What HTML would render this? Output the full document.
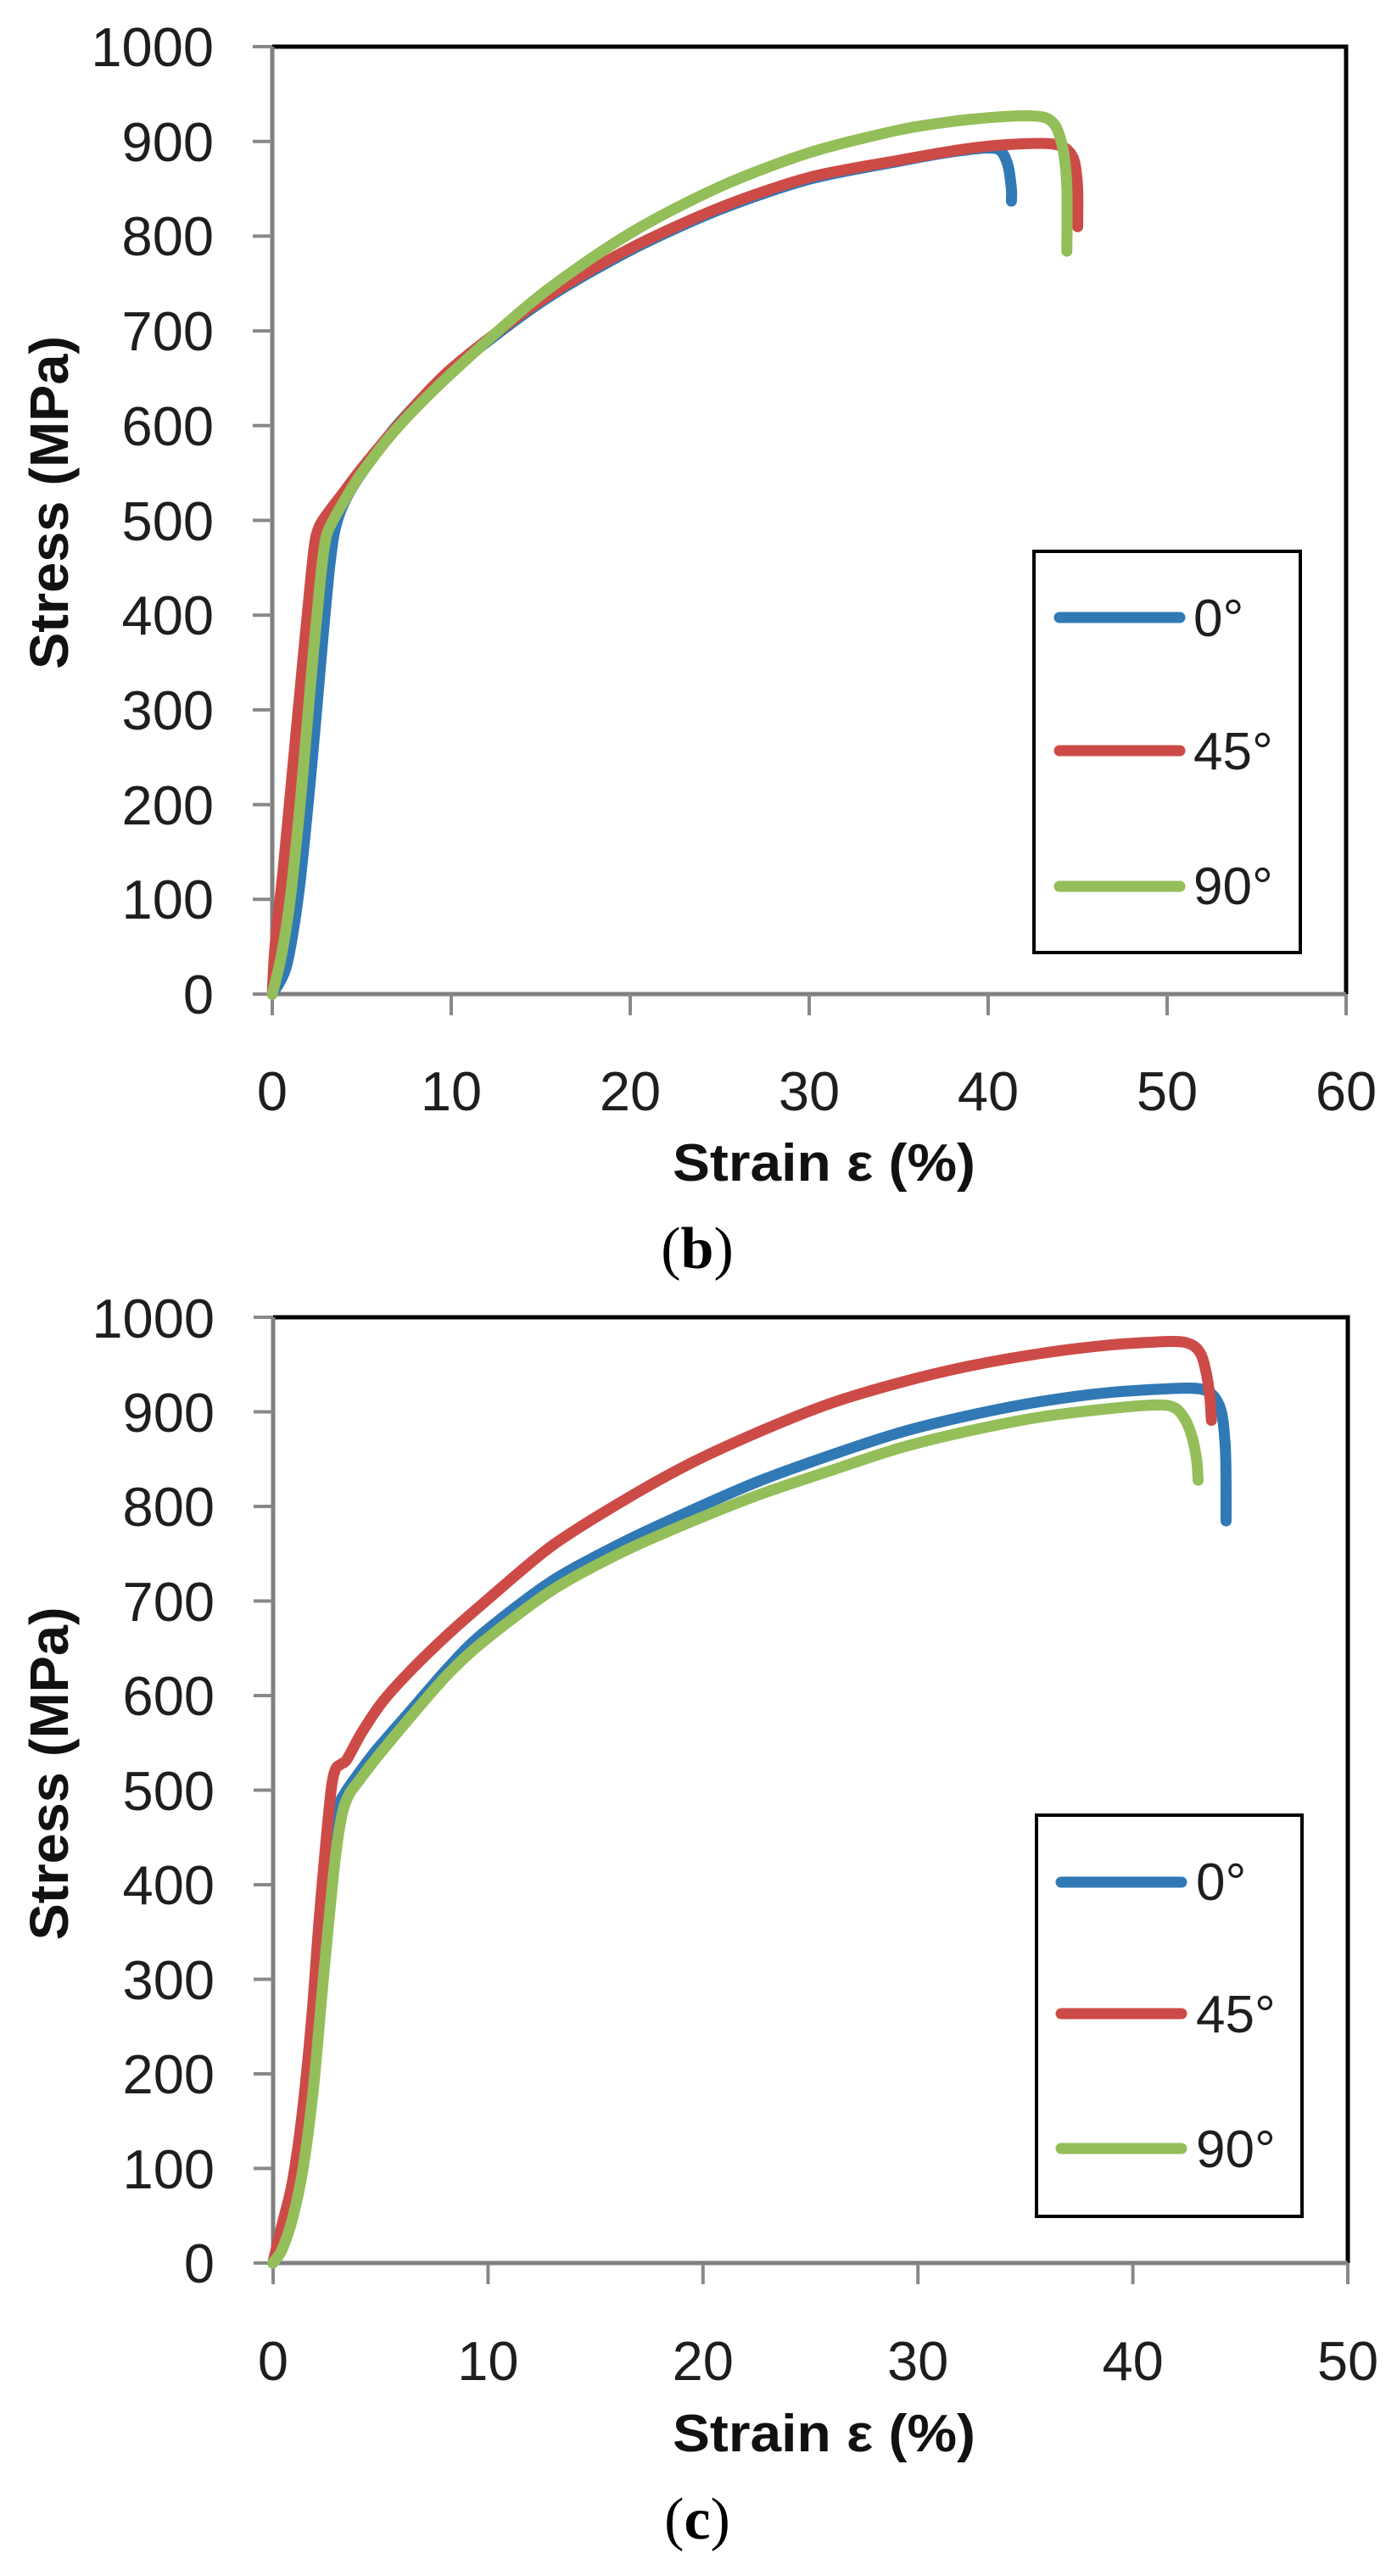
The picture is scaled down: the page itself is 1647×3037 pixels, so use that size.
<!DOCTYPE html>
<html>
<head>
<meta charset="utf-8">
<style>
  html, body { margin: 0; padding: 0; background: #ffffff; }
  body { width: 1647px; height: 3037px; overflow: hidden; }
  svg { display: block; }
  .tick { font-family: "Liberation Sans", sans-serif; font-size: 65px; fill: #1e1e1e; }
  .leg { font-family: "Liberation Sans", sans-serif; font-size: 62px; fill: #1e1e1e; }
  .ttl { font-family: "Liberation Sans", sans-serif; font-size: 62px; font-weight: bold; fill: #111; }
  .cap { font-family: "Liberation Serif", serif; font-size: 70px; fill: #000; }
</style>
</head>
<body>
<svg id="fig" width="1647" height="3037" viewBox="0 0 1647 3037" xmlns="http://www.w3.org/2000/svg">
  <rect x="0" y="0" width="1647" height="3037" fill="#ffffff"/>

  <!-- ================= TOP CHART (b) ================= -->
  <path d="M321,55 H1587 V1172" fill="none" stroke="#000" stroke-width="5"/>
  <path d="M321,55 V1172 H1587" fill="none" stroke="#7f7f7f" stroke-width="5"/>
  <g stroke="#888" stroke-width="4">
    <line x1="298" y1="1172" x2="321" y2="1172"/>
    <line x1="298" y1="1060.3" x2="321" y2="1060.3"/>
    <line x1="298" y1="948.6" x2="321" y2="948.6"/>
    <line x1="298" y1="836.9" x2="321" y2="836.9"/>
    <line x1="298" y1="725.2" x2="321" y2="725.2"/>
    <line x1="298" y1="613.5" x2="321" y2="613.5"/>
    <line x1="298" y1="501.8" x2="321" y2="501.8"/>
    <line x1="298" y1="390.1" x2="321" y2="390.1"/>
    <line x1="298" y1="278.4" x2="321" y2="278.4"/>
    <line x1="298" y1="166.7" x2="321" y2="166.7"/>
    <line x1="298" y1="55" x2="321" y2="55"/>
  </g>
  <g stroke="#888" stroke-width="4">
    <line x1="321" y1="1172" x2="321" y2="1197"/>
    <line x1="532" y1="1172" x2="532" y2="1197"/>
    <line x1="743" y1="1172" x2="743" y2="1197"/>
    <line x1="954" y1="1172" x2="954" y2="1197"/>
    <line x1="1165" y1="1172" x2="1165" y2="1197"/>
    <line x1="1376" y1="1172" x2="1376" y2="1197"/>
    <line x1="1587" y1="1172" x2="1587" y2="1197"/>
  </g>
  <g class="tick" text-anchor="end">
    <text x="252" y="1195">0</text>
    <text x="252" y="1083">100</text>
    <text x="252" y="972">200</text>
    <text x="252" y="860">300</text>
    <text x="252" y="748">400</text>
    <text x="252" y="637">500</text>
    <text x="252" y="525">600</text>
    <text x="252" y="413">700</text>
    <text x="252" y="301">800</text>
    <text x="252" y="190">900</text>
    <text x="252" y="78">1000</text>
  </g>
  <g class="tick" text-anchor="middle">
    <text x="321" y="1309">0</text>
    <text x="532" y="1309">10</text>
    <text x="743" y="1309">20</text>
    <text x="954" y="1309">30</text>
    <text x="1165" y="1309">40</text>
    <text x="1376" y="1309">50</text>
    <text x="1587" y="1309">60</text>
  </g>
  <text class="ttl" x="793" y="1392" textLength="357" lengthAdjust="spacingAndGlyphs">Strain ε  (%)</text>
  <text class="ttl" transform="translate(80,592.5) rotate(-90)" text-anchor="middle" textLength="393" lengthAdjust="spacingAndGlyphs" style="font-size:64px">Stress  (MPa)</text>

  <g fill="none" stroke-width="13" stroke-linejoin="round" stroke-linecap="round">
    <polyline class="sm" stroke="#3079b5" points="321,1172 337.9,1138.5 352.7,1049.1 367.4,903.9 380.1,758.7 388.5,669.4 394.9,624.7 405.4,593.4 426.5,557.6 468.7,500.7 532,437 637.5,356.6 743,295.2 848.5,247.1 954,211.4 1059.5,190.2 1122.8,179 1165,174.5 1179.8,177.9 1188.2,194.6 1192.4,222.5 1192.4,237.1"/>
    <polyline class="sm" stroke="#cd4b47" points="321,1172 324.2,1116.2 333.7,1026.8 346.3,892.8 359,758.7 369.5,652.6 374.8,624.7 384.3,607.9 405.4,580 426.5,552.1 468.7,501.8 532,434.8 637.5,354.4 743,292.9 848.5,244.9 954,209.1 1059.5,189 1122.8,177.9 1165,172.3 1207.2,169.5 1238.9,169.5 1255.7,174.5 1266.3,189 1270.5,222.5 1270.5,267.3"/>
    <polyline class="sm" stroke="#94be59" points="321,1172 331.6,1127.3 342.1,1060.3 354.8,937.4 367.4,792.2 378,680.5 384.3,633.6 392.7,613.5 405.4,591.2 426.5,557.6 468.7,504 532,440.4 637.5,347.7 743,275 848.5,220.3 954,180.1 1059.5,153.3 1122.8,143.2 1165,138.8 1207.2,136.5 1232.5,138.8 1245.2,150 1253.6,177.9 1257.8,222.5 1257.8,296.2"/>
  </g>

  <rect x="1219" y="650" width="314" height="473" fill="#fff" stroke="#000" stroke-width="4"/>
  <g stroke-width="13" stroke-linecap="round">
    <line x1="1249" y1="728" x2="1391" y2="728" stroke="#3079b5"/>
    <line x1="1249" y1="885" x2="1391" y2="885" stroke="#cd4b47"/>
    <line x1="1249" y1="1045" x2="1391" y2="1045" stroke="#94be59"/>
  </g>
  <g class="leg">
    <text x="1407" y="750">0°</text>
    <text x="1407" y="907">45°</text>
    <text x="1407" y="1066">90°</text>
  </g>

  <text class="cap" x="822" y="1495" text-anchor="middle">(<tspan font-weight="bold">b</tspan>)</text>

  <!-- ================= BOTTOM CHART (c) ================= -->
  <path d="M322,1553 H1589 V2668" fill="none" stroke="#000" stroke-width="5"/>
  <path d="M322,1553 V2668 H1589" fill="none" stroke="#7f7f7f" stroke-width="5"/>
  <g stroke="#888" stroke-width="4">
    <line x1="299" y1="2668" x2="322" y2="2668"/>
    <line x1="299" y1="2556.5" x2="322" y2="2556.5"/>
    <line x1="299" y1="2445" x2="322" y2="2445"/>
    <line x1="299" y1="2333.5" x2="322" y2="2333.5"/>
    <line x1="299" y1="2222" x2="322" y2="2222"/>
    <line x1="299" y1="2110.5" x2="322" y2="2110.5"/>
    <line x1="299" y1="1999" x2="322" y2="1999"/>
    <line x1="299" y1="1887.5" x2="322" y2="1887.5"/>
    <line x1="299" y1="1776" x2="322" y2="1776"/>
    <line x1="299" y1="1664.5" x2="322" y2="1664.5"/>
    <line x1="299" y1="1553" x2="322" y2="1553"/>
  </g>
  <g stroke="#888" stroke-width="4">
    <line x1="322" y1="2668" x2="322" y2="2693"/>
    <line x1="575.4" y1="2668" x2="575.4" y2="2693"/>
    <line x1="828.8" y1="2668" x2="828.8" y2="2693"/>
    <line x1="1082.2" y1="2668" x2="1082.2" y2="2693"/>
    <line x1="1335.6" y1="2668" x2="1335.6" y2="2693"/>
    <line x1="1589" y1="2668" x2="1589" y2="2693"/>
  </g>
  <g class="tick" text-anchor="end">
    <text x="253" y="2691">0</text>
    <text x="253" y="2580">100</text>
    <text x="253" y="2468">200</text>
    <text x="253" y="2357">300</text>
    <text x="253" y="2245">400</text>
    <text x="253" y="2134">500</text>
    <text x="253" y="2022">600</text>
    <text x="253" y="1911">700</text>
    <text x="253" y="1799">800</text>
    <text x="253" y="1688">900</text>
    <text x="253" y="1577">1000</text>
  </g>
  <g class="tick" text-anchor="middle">
    <text x="322" y="2806">0</text>
    <text x="575.4" y="2806">10</text>
    <text x="828.8" y="2806">20</text>
    <text x="1082.2" y="2806">30</text>
    <text x="1335.6" y="2806">40</text>
    <text x="1589" y="2806">50</text>
  </g>
  <text class="ttl" x="793" y="2890" textLength="357" lengthAdjust="spacingAndGlyphs">Strain ε  (%)</text>
  <text class="ttl" transform="translate(80,2091) rotate(-90)" text-anchor="middle" textLength="393" lengthAdjust="spacingAndGlyphs" style="font-size:64px">Stress  (MPa)</text>

  <g transform="translate(320,1540) scale(0.82271,0.72727)" fill="none" stroke-linejoin="round" stroke-linecap="round">
    <polyline class="sm" vector-effect="non-scaling-stroke" stroke-width="13" stroke="#3079b5" points="2,1551 20,1500 40,1420 55,1300 68,1150 78,1000 88,880 97,810 105,790 120,765 150,720 200,655 250,590 300,533 400,447 500,385 600,332 700,283 800,242 900,205 1000,177 1100,155 1200,140 1300,133 1335,135 1352,148 1362,175 1367,230 1368,290 1368,348"/>
    <polyline class="sm" vector-effect="non-scaling-stroke" stroke-width="13" stroke="#cd4b47" points="2,1551 15,1490 30,1420 45,1300 58,1150 68,1000 78,870 86,780 92,750 100,742 108,735 130,690 160,640 200,590 250,535 300,485 400,390 500,318 600,255 700,203 800,158 900,124 1000,97 1100,77 1200,63 1290,57 1318,62 1332,78 1340,110 1345,150 1347,185"/>
    <polyline class="sm" vector-effect="non-scaling-stroke" stroke-width="13" stroke="#94be59" points="2,1551 15,1530 30,1480 45,1400 60,1270 72,1120 82,1000 92,890 102,820 112,790 125,770 150,733 200,665 250,600 300,547 400,462 500,400 600,350 700,305 800,267 900,230 1000,202 1100,180 1200,166 1270,160 1295,165 1310,185 1320,215 1326,250 1328,282"/>
  </g>

  <rect x="1222" y="2140" width="313" height="473" fill="#fff" stroke="#000" stroke-width="4"/>
  <g stroke-width="13" stroke-linecap="round">
    <line x1="1251" y1="2219" x2="1393" y2="2219" stroke="#3079b5"/>
    <line x1="1251" y1="2374" x2="1393" y2="2374" stroke="#cd4b47"/>
    <line x1="1251" y1="2533" x2="1393" y2="2533" stroke="#94be59"/>
  </g>
  <g class="leg">
    <text x="1410" y="2240">0°</text>
    <text x="1410" y="2396">45°</text>
    <text x="1410" y="2555">90°</text>
  </g>

  <text class="cap" x="822" y="2993" text-anchor="middle">(<tspan font-weight="bold">c</tspan>)</text>
</svg>
<script>
(function(){
  try {
    var ns = "http://www.w3.org/2000/svg";
    var pls = document.querySelectorAll("polyline.sm");
    for (var i = 0; i < pls.length; i++) {
      var pl = pls[i];
      var raw = pl.getAttribute("points").trim().split(/\s+/);
      var p = raw.map(function(s){ var a = s.split(","); return [parseFloat(a[0]), parseFloat(a[1])]; });
      if (p.length < 3) continue;
      var k = 1/7;
      var d = "M" + p[0][0] + "," + p[0][1];
      for (var j = 0; j < p.length - 1; j++) {
        var p0 = p[j-1] || p[j], p1 = p[j], p2 = p[j+1], p3 = p[j+2] || p[j+1];
        var c1x = p1[0] + (p2[0] - p0[0]) * k, c1y = p1[1] + (p2[1] - p0[1]) * k;
        var c2x = p2[0] - (p3[0] - p1[0]) * k, c2y = p2[1] - (p3[1] - p1[1]) * k;
        d += " C" + c1x.toFixed(2) + "," + c1y.toFixed(2) + " " + c2x.toFixed(2) + "," + c2y.toFixed(2) + " " + p2[0] + "," + p2[1];
      }
      var path = document.createElementNS(ns, "path");
      path.setAttribute("d", d);
      var attrs = ["stroke", "stroke-width", "vector-effect"];
      for (var m = 0; m < attrs.length; m++) {
        var v = pl.getAttribute(attrs[m]);
        if (v) path.setAttribute(attrs[m], v);
      }
      pl.parentNode.replaceChild(path, pl);
    }
  } catch (e) {}
})();
</script>
</body>
</html>
